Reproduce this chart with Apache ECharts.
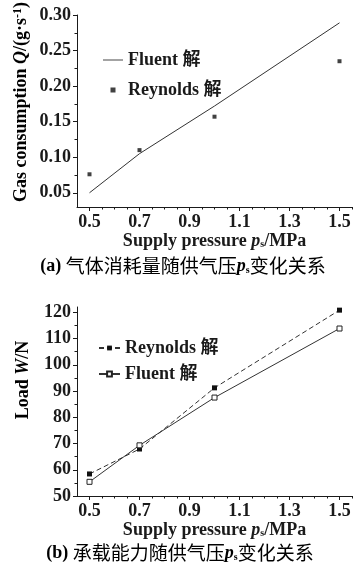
<!DOCTYPE html>
<html>
<head>
<meta charset="utf-8">
<script src="https://cdn.jsdelivr.net/npm/echarts@6/dist/echarts.min.js"></script>
<style>html,body{margin:0;padding:0;background:#fff;}#c{width:359px;height:564px;}</style>
</head>
<body>
<div id="c"></div>
<script>
// ---- data ----
const pressures = [0.5, 0.7, 1.0, 1.5];
const gasFluent = [0.050, 0.105, 0.172, 0.289];
const gasReynolds = [0.076, 0.110, 0.157, 0.235];
const loadReynolds = [58.4, 67.9, 91.2, 120.8];
const loadFluent = [55.4, 69.3, 87.5, 113.8];
// ---- ticks ----
const xMajor = [0.5, 0.7, 0.9, 1.1, 1.3, 1.5];
const xMinor = [0.55, 0.6, 0.65, 0.75, 0.8, 0.85, 0.95, 1.0, 1.05, 1.15, 1.2, 1.25, 1.35, 1.4, 1.45, 1.55];
const gasMajor = [0.05, 0.10, 0.15, 0.20, 0.25, 0.30];
const gasMinor = [0.075, 0.125, 0.175, 0.225, 0.275];
const loadMajor = [50, 60, 70, 80, 90, 100, 110, 120];
const loadMinor = [55, 65, 75, 85, 95, 105, 115];
const legendLabels = {
  fluentQ: 'Fluent 解', reynoldsQ: 'Reynolds 解',
  reynoldsW: 'Reynolds 解', fluentW: 'Fluent 解'
};

const pair = (xs, ys) => xs.map((x, i) => [x, ys[i]]);
const SERIF = '"Liberation Serif", "Times New Roman", "Noto Sans CJK SC", serif';
const CJK = '"Noto Sans CJK SC", sans-serif';
const INK = '#1a1a1a';

const rich = {
  a: {fontFamily: SERIF, fontWeight: 'bold', fontSize: 18, color: INK},
  i: {fontFamily: SERIF, fontWeight: 'bold', fontStyle: 'italic', fontSize: 18, color: INK},
  sub: {fontFamily: SERIF, fontWeight: 'bold', fontSize: 10, color: INK, verticalAlign: 'bottom'},
  sup: {fontFamily: SERIF, fontWeight: 'bold', fontSize: 12, color: INK, verticalAlign: 'top'},
  c: {fontFamily: CJK, fontWeight: 'normal', fontSize: 19, color: INK}
};

function mainX(grid, gap) {
  return {
    type: 'value', gridIndex: grid, min: 0.45, max: 1.55, position: 'bottom',
    axisLine: {show: true, lineStyle: {color: INK, width: 1}},
    axisTick: {show: true, inside: false, length: 4, customValues: xMajor, lineStyle: {color: INK}},
    axisLabel: {customValues: xMajor, margin: 6, formatter: v => v.toFixed(1),
      fontFamily: SERIF, fontWeight: 'bold', fontSize: 18, color: INK},
    splitLine: {show: false},
    name: '{a|Supply pressure }{i|p}{sub|s}{a|/MPa}',
    nameLocation: 'middle', nameGap: gap,
    nameTextStyle: {rich: rich}
  };
}
function minorX(grid) {
  return {
    type: 'value', gridIndex: grid, min: 0.45, max: 1.55, position: 'bottom',
    axisLine: {show: false},
    axisTick: {show: true, length: 2.5, customValues: xMinor, lineStyle: {color: INK}},
    axisLabel: {show: false}, splitLine: {show: false}
  };
}
function mainY(grid, min, max, major, fmt) {
  return {
    type: 'value', gridIndex: grid, min: min, max: max, position: 'left',
    axisLine: {show: true, lineStyle: {color: INK, width: 1}},
    axisTick: {show: true, length: 4, customValues: major, lineStyle: {color: INK}},
    axisLabel: {customValues: major, margin: 6, formatter: fmt,
      fontFamily: SERIF, fontWeight: 'bold', fontSize: 18, color: INK},
    splitLine: {show: false}
  };
}
function minorY(grid, min, max, minor) {
  return {
    type: 'value', gridIndex: grid, min: min, max: max, position: 'left',
    axisLine: {show: false},
    axisTick: {show: true, length: 2.5, customValues: minor, lineStyle: {color: INK}},
    axisLabel: {show: false}, splitLine: {show: false}
  };
}

const chart = echarts.init(document.getElementById('c'), null, {renderer: 'canvas'});
chart.setOption({
  animation: false,
  backgroundColor: '#fff',
  grid: [
    {left: 77, right: 7, top: 15, height: 192},
    {left: 77, right: 7, top: 307, height: 189}
  ],
  xAxis: [mainX(0, 23), minorX(0), mainX(1, 22), minorX(1)],
  yAxis: [
    mainY(0, 0.03, 0.30, gasMajor, v => v.toFixed(2)),
    minorY(0, 0.03, 0.30, gasMinor),
    mainY(1, 50, 122, loadMajor, v => String(v)),
    minorY(1, 50, 122, loadMinor)
  ],
  legend: [
    {
      orient: 'vertical', left: 98, top: 45, itemWidth: 20, itemHeight: 5, itemGap: 10,
      formatter: n => legendLabels[n],
      textStyle: {fontFamily: SERIF, fontWeight: 'bold', fontSize: 18, color: INK, lineHeight: 20},
      data: [
        {name: 'fluentQ', icon: 'path://M0,0H22V1H0Z'},
        {name: 'reynoldsQ', icon: 'path://M0,0H1V1H0Z'}
      ],
      selectedMode: false
    },
    {
      orient: 'vertical', left: 93, top: 333, itemWidth: 21, itemHeight: 6, itemGap: 6,
      formatter: n => legendLabels[n],
      textStyle: {fontFamily: SERIF, fontWeight: 'bold', fontSize: 18, color: INK, lineHeight: 20},
      data: ['reynoldsW', 'fluentW'],
      selectedMode: false
    }
  ],
  series: [
    {
      name: 'fluentQ', type: 'line', xAxisIndex: 0, yAxisIndex: 0,
      data: pair(pressures, gasFluent), symbol: 'none',
      lineStyle: {color: '#333', width: 1}, itemStyle: {color: '#333'}
    },
    {
      name: 'reynoldsQ', type: 'scatter', xAxisIndex: 0, yAxisIndex: 0,
      data: pair(pressures, gasReynolds), symbol: 'rect', symbolSize: 4,
      itemStyle: {color: '#111'}
    },
    {
      name: 'reynoldsW', type: 'line', xAxisIndex: 2, yAxisIndex: 2,
      data: pair(pressures, loadReynolds), symbol: 'rect', symbolSize: 5,
      lineStyle: {color: '#333', width: 1, type: [5, 3]}, itemStyle: {color: '#111'}
    },
    {
      name: 'fluentW', type: 'line', xAxisIndex: 2, yAxisIndex: 2,
      data: pair(pressures, loadFluent), symbol: 'rect', symbolSize: 5,
      lineStyle: {color: '#333', width: 1},
      itemStyle: {color: '#fff', borderColor: '#222', borderWidth: 1}
    }
  ],
  graphic: [
    {
      type: 'text', x: 21, y: 102, rotation: Math.PI / 2,
      style: {
        text: '{a|Gas consumption }{i|Q}{a|/(g·s}{sup|-1}{a|)}', rich: rich,
        align: 'center', verticalAlign: 'middle', textAlign: 'center', textVerticalAlign: 'middle'
      }
    },
    {
      type: 'text', x: 23, y: 380, rotation: Math.PI / 2,
      style: {
        text: '{a|Load }{i|W}{a|/N}', rich: rich,
        align: 'center', verticalAlign: 'middle', textAlign: 'center', textVerticalAlign: 'middle'
      }
    },
    {
      type: 'text', x: 183, y: 266,
      style: {
        text: '{a|(a) }{c|气体消耗量随供气压}{i|p}{sub|s}{c|变化关系}', rich: rich,
        align: 'center', verticalAlign: 'middle', textAlign: 'center', textVerticalAlign: 'middle'
      }
    },
    {
      type: 'text', x: 180, y: 553,
      style: {
        text: '{a|(b) }{c|承载能力随供气压}{i|p}{sub|s}{c|变化关系}', rich: rich,
        align: 'center', verticalAlign: 'middle', textAlign: 'center', textVerticalAlign: 'middle'
      }
    }
  ]
});
</script>
</body>
</html>
